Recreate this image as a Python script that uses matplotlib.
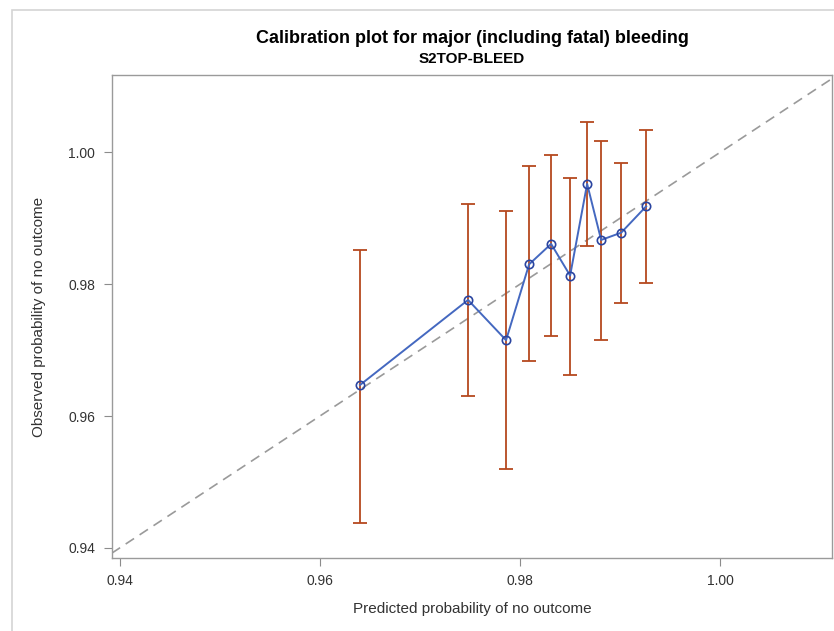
import matplotlib.pyplot as plt
from matplotlib.patches import Rectangle

plt.rcParams['font.family'] = ['Liberation Sans', 'DejaVu Sans']

# calibration groups: predicted vs observed probability of no outcome
predicted = [0.9640, 0.9748, 0.9786, 0.9809, 0.9831, 0.9850, 0.9867, 0.9881, 0.9901, 0.9926]
observed = [0.9647, 0.9776, 0.9715, 0.9830, 0.9861, 0.9813, 0.9952, 0.9867, 0.9878, 0.9918]
lower = [0.9438, 0.9630, 0.9520, 0.9683, 0.9721, 0.9662, 0.9858, 0.9716, 0.9771, 0.9801]
upper = [0.9852, 0.9922, 0.9911, 0.9979, 0.9996, 0.9961, 1.0046, 1.0017, 0.9984, 1.0033]
ticks = [0.94, 0.96, 0.98, 1.00]
lims = (0.9392, 1.0112)

fig = plt.figure(figsize=(8.34, 6.31), dpi=100)
fig.patches.append(Rectangle((12 / 834, -0.1), 1.0, 1.1 - 10 / 631,
                             transform=fig.transFigure, fill=False,
                             edgecolor='#d4d4d4', linewidth=1.2))
ax = fig.add_axes([0.134, 0.116, 0.864, 0.765])

ax.plot(lims, lims, color='#9a9a9a', linestyle=(0, (6, 4)), linewidth=1.2, zorder=1)

err_lo = [o - l for o, l in zip(observed, lower)]
err_hi = [u - o for o, u in zip(observed, upper)]
ax.errorbar(predicted, observed, yerr=[err_lo, err_hi], fmt='none',
            ecolor='#b5491f', elinewidth=1.3, capsize=5, capthick=1.3, zorder=2)
ax.plot(predicted, observed, color='#4468c0', linewidth=1.4, marker='o',
        markersize=6, markerfacecolor='none', markeredgecolor='#2a44a0',
        markeredgewidth=1.2, zorder=3)

ax.set_xlim(lims)
ax.set_ylim(0.9385, 1.0117)
ax.set_xticks(ticks)
ax.set_yticks(ticks)
ax.set_xticklabels([f'{t:.2f}' for t in ticks])
ax.set_yticklabels([f'{t:.2f}' for t in ticks])
ax.tick_params(direction='out', length=6, color='#8c8c8c', labelsize=10,
               labelcolor='#333333', pad=6)
for s in ax.spines.values():
    s.set_color('#9a9a9a')
    s.set_linewidth(1.0)

ax.set_xlabel('Predicted probability of no outcome', fontsize=11, color='#333333', labelpad=10)
ax.set_ylabel('Observed probability of no outcome', fontsize=11, color='#333333', labelpad=16)

fig.text(0.566, 0.932, 'Calibration plot for major (including fatal) bleeding',
         ha='center', fontsize=13, fontweight='bold')
fig.text(0.566, 0.9, 'S2TOP-BLEED', ha='center', fontsize=11, fontweight='bold')

fig.savefig('out.png', dpi=100)
